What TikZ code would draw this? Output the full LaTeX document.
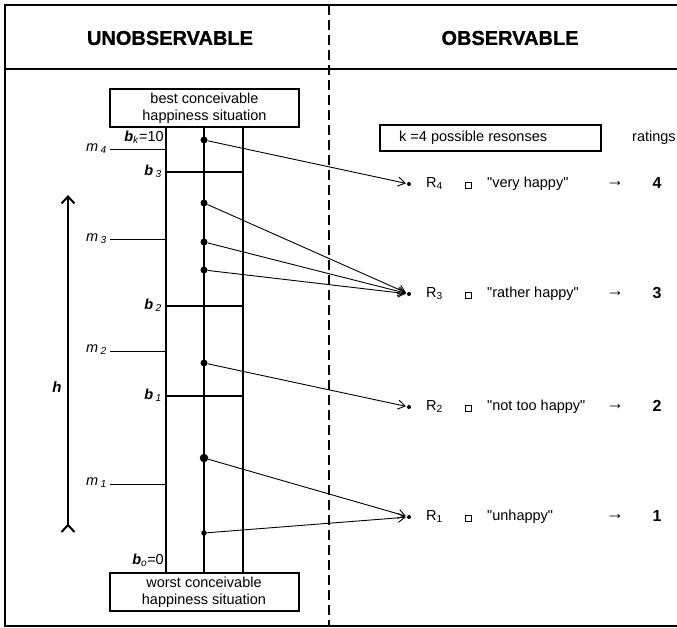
\documentclass[tikz,border=0pt]{standalone}
\usepackage{fontspec}
\setmainfont{Liberation Sans}
\usetikzlibrary{arrows.meta}
\begin{document}
\begin{tikzpicture}[x=1pt,y=-1pt,
  every node/.style={font=\fontsize{14.5}{17}\selectfont},
  frameline/.style={line width=2.5pt},
  divider/.style={line width=2pt,dash pattern=on 10pt off 5pt},
  colline/.style={line width=2pt},
  midline/.style={line width=2.6pt},
  bline/.style={line width=2.2pt},
  mline/.style={line width=1pt},
  dot/.style={circle,fill=black,inner sep=0pt,minimum size=7pt},
  rdot/.style={circle,fill=black,inner sep=0pt,minimum size=4pt},
  conn/.style={line width=0.9pt,shorten >=1pt,-{Straight Barb[length=7pt,width=9pt]}},
  endbox/.style={draw,line width=2pt,fill=white,minimum width=189pt,minimum height=38pt,inner sep=0pt,align=center},
  header/.style={font=\fontsize{20}{22}\bfseries\addfontfeature{FakeBold=1}\selectfont},
  blabel/.style={anchor=east,inner sep=0pt},
  mlabel/.style={anchor=east,inner sep=0pt},
  rowtext/.style={anchor=west,inner sep=0pt,text height=10.5pt,text depth=3pt},
  chk/.style={draw,line width=0.6pt,minimum size=6pt,inner sep=0pt},
  rating/.style={font=\fontsize{16}{18}\bfseries\selectfont,text height=11.5pt,text depth=3pt}
]
\useasboundingbox (0,0) rectangle (677,628);
% frame
\draw[frameline] (677,5) -- (5,5) -- (5,626) -- (677,626);
\draw[frameline] (5,69) -- (677,69);
\draw[divider] (329,5) -- (329,626);
% headers
\node[header] (hu) at (170,38) {UNOBSERVABLE};
\node[header] (ho) at (510,38) {OBSERVABLE};
% column
\draw[colline] (166,128) -- (166,573);
\draw[colline] (243,128) -- (243,573);
\draw[midline] (204,128) -- (204,573);
\draw[bline] (166,172) -- (243,172);
\draw[bline] (166,306) -- (243,306);
\draw[bline] (166,396) -- (243,396);
\node[endbox] (best) at (204.5,108.5) {best conceivable\\happiness situation};
\node[endbox] (worst) at (204,592) {worst conceivable\\happiness situation};
% b labels
\node[blabel] (bk) at (164,137) {\textbf{\textit{b}}\textsubscript{\textit{k}}=10};
\node[blabel] (b3) at (162,171) {\textbf{\textit{b}}\,\textsubscript{\textit{3}}};
\node[blabel] (b2) at (162,305) {\textbf{\textit{b}}\,\textsubscript{\textit{2}}};
\node[blabel] (b1) at (162,395) {\textbf{\textit{b}}\,\textsubscript{\textit{1}}};
\node[blabel] (b0) at (164,560) {\textbf{\textit{b}}\textsubscript{\textit{o}}=0};
% m labels and ticks
\node[mlabel] (m4) at (107,149) {\textit{m}\,\textsubscript{\textit{4}}};
\node[mlabel] (m3) at (107,239) {\textit{m}\,\textsubscript{\textit{3}}};
\node[mlabel] (m2) at (107,350) {\textit{m}\,\textsubscript{\textit{2}}};
\node[mlabel] (m1) at (107,483) {\textit{m}\,\textsubscript{\textit{1}}};
\draw[mline] (110,150) -- (166,150);
\draw[mline] (110,240) -- (166,240);
\draw[mline] (110,351) -- (166,351);
\draw[mline] (110,484) -- (166,484);
% h arrow
\coordinate (hbot) at (68,533);
\coordinate (htop) at (68,195);
\draw[line width=2pt,{Straight Barb[reversed,length=7pt,width=13pt]}-{Straight Barb[length=7pt,width=13pt]}] (hbot) -- (htop);
\node[font=\fontsize{15}{17}\bfseries\itshape\selectfont] (h) at (57,387) {h};
% dots
\node[dot] (d1) at (204,140) {};
\node[dot] (d2) at (204,203) {};
\node[dot] (d3) at (204,242) {};
\node[dot] (d4) at (204,270) {};
\node[dot] (d5) at (204,363) {};
\node[dot,minimum size=8.5pt] (d6) at (204,458) {};
\node[dot,minimum size=5.5pt] (d7) at (204,533) {};
% responses
\node[draw,line width=2pt,minimum width=221pt,minimum height=26pt] (kbox) at (490.5,138) {};
\node[anchor=west,inner sep=0pt] (ktext) at (399,138) {k =4 possible resonses};
\node[anchor=west,inner sep=0pt] (ratings) at (632,138) {ratings};
\foreach \n/\y/\t in {4/184/{very happy},3/294/{rather happy},2/407/{not too happy},1/517/{unhappy}}{
  \node[rdot] (r\n) at (409,\y) {};
  \node[rowtext] (rl\n) at (426,\y) {R\textsubscript{\n}};
  \node[chk] (c\n) at (468,\y+1) {};
  \node[rowtext] (rt\n) at (487,\y) {\textquotedbl\t\textquotedbl};
  \node[font=\fontsize{18}{20}\selectfont] (ra\n) at (615,\y) {→};
  \node[rating] (rv\n) at (657,\y) {\n};
}
% connectors
\draw[conn] (d1) -- (r4);
\draw[conn] (d2) -- (r3);
\draw[conn] (d3) -- (r3);
\draw[conn] (d4) -- (r3);
\draw[conn] (d5) -- (r2);
\draw[conn] (d6) -- (r1);
\draw[conn] (d7) -- (r1);
\end{tikzpicture}
\end{document}
